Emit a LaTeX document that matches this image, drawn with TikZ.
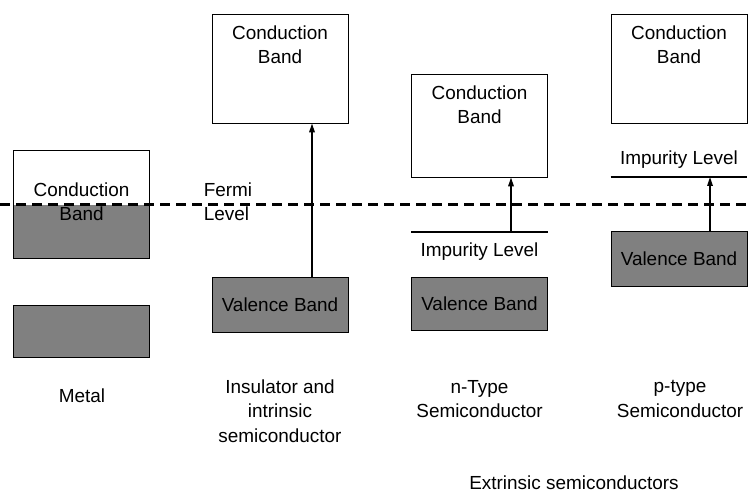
\documentclass[tikz,border=0pt]{standalone}
\usepackage{fontspec}
\setmainfont{Liberation Sans}
\usetikzlibrary{arrows.meta,positioning}

\begin{document}
\begin{tikzpicture}[x=1bp,y=-1bp,
  font=\fontsize{19}{24.5}\selectfont,
  band/.style={draw,line width=0.8bp,minimum width=136bp,inner sep=0pt},
  cband/.style={band,fill=white},
  vband/.style={band,fill=black!50},
  lbl/.style={align=center,inner sep=0pt},
  level/.style={line width=1.6bp},
  arr/.style={line width=1.6bp,-{Triangle[length=9bp,width=5.5bp]}},
  fermi/.style={line width=3bp,dash pattern=on 10bp off 6bp}]
\useasboundingbox (0,0) rectangle (752,495);
%\draw [help lines,step=50] (0,0) grid (752,495);

% metal
\fill [black!50] (13,205) rectangle (150,258);
\node [band,minimum height=108bp] (m-cb) at (81.5,204) {};
\node [vband,minimum height=52bp] (m-vb) at (81.5,331) {};
\node [lbl] (m-cbt) at (81.5,202) {Conduction\\Band};
\node [lbl] (m-name) at (82,396) {Metal};

% insulator
\node [cband,minimum height=109bp] (i-cb) at (280,68.5) {};
\node [lbl,below=12bp of i-cb.north] (i-cbt) {Conduction\\Band};
\node [vband,minimum height=55bp] (i-vb) at (280,304.5) {Valence Band};
\coordinate (i-a) at (312,0);
\draw [arr] (i-vb.north -| i-a) -- (i-cb.south -| i-a);
\node [lbl] (i-name) at (280,411) {Insulator and\\intrinsic\\semiconductor};

% n-type
\node [cband,minimum height=103bp] (n-cb) at (479.5,125.5) {};
\node [lbl,below=12bp of n-cb.north] (n-cbt) {Conduction\\Band};
\coordinate (n-imp) at (479.5,232);
\draw [level] (n-cb.west |- n-imp) -- (n-cb.east |- n-imp);
\node [lbl] (n-impt) at (479.5,252) {Impurity Level};
\node [vband,minimum height=53bp] (n-vb) at (479.5,303.5) {Valence Band};
\coordinate (n-a) at (511,0);
\draw [arr] (n-imp -| n-a) -- (n-cb.south -| n-a);
\node [lbl] (n-name) at (479.5,399) {n-Type\\Semiconductor};

% p-type
\node [cband,minimum height=109bp] (p-cb) at (679,68.5) {};
\node [lbl,below=12bp of p-cb.north] (p-cbt) {Conduction\\Band};
\coordinate (p-imp) at (679,177);
\draw [level] (p-cb.west |- p-imp) -- (p-cb.east |- p-imp);
\node [lbl] (p-impt) at (679,160) {Impurity Level};
\node [vband,minimum height=55bp] (p-vb) at (679,258.5) {Valence Band};
\coordinate (p-a) at (710,0);
\draw [arr] (p-vb.north -| p-a) -- (p-imp -| p-a);
\node [lbl] (p-name) at (680,399) {p-type\\Semiconductor};

% fermi level
\coordinate (f-l) at (0,205);
\coordinate (f-r) at (752,205);
\draw [fermi] (f-l) -- (f-r);
\node [lbl,align=left] (f-txt) at (228,202) {Fermi\\Level};

\node [lbl] (ext) at (574,483) {Extrinsic semiconductors};
\end{tikzpicture}
\end{document}
